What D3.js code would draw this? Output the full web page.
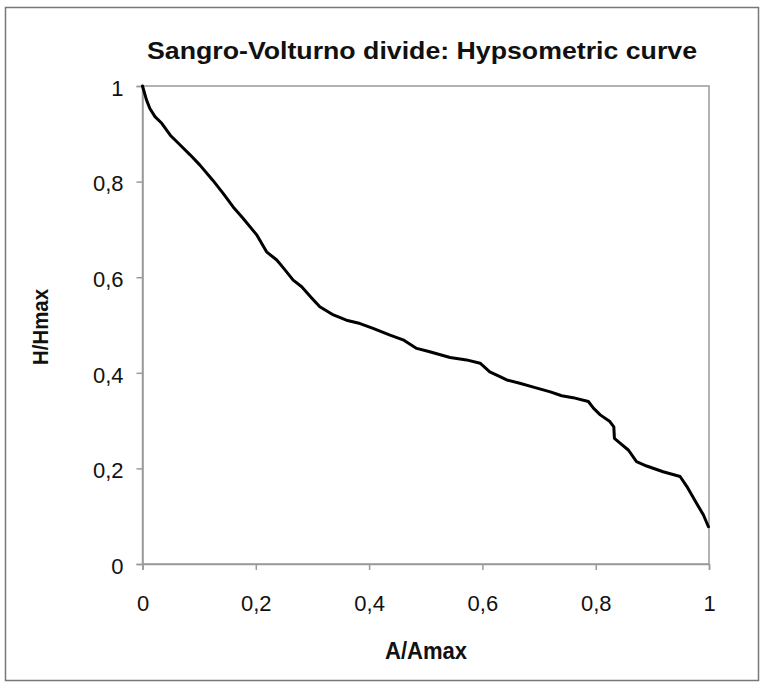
<!DOCTYPE html>
<html>
<head>
<meta charset="utf-8">
<script src="https://cdn.jsdelivr.net/npm/d3@7"></script>
<style>
  html, body { margin: 0; padding: 0; background: #fff; }
  svg { display: block; }
  text { font-family: "Liberation Sans", Arial, sans-serif; fill: #111; }
</style>
</head>
<body>
<svg id="chart" width="765" height="688"></svg>
<script>
const title = "Sangro-Volturno divide: Hypsometric curve";
const xLabel = "A/Amax";
const yLabel = "H/Hmax";
const xTicks = [0, 0.2, 0.4, 0.6, 0.8, 1];
const yTicks = [0, 0.2, 0.4, 0.6, 0.8, 1];

// Relative area (A/Amax)
const areaRel = [0, 0.007, 0.013, 0.022, 0.034, 0.049, 0.066, 0.084, 0.101, 0.124, 0.142, 0.160, 0.177, 0.202, 0.219, 0.237, 0.249, 0.266, 0.281, 0.299, 0.313, 0.337, 0.360, 0.384, 0.407, 0.437, 0.460, 0.484, 0.507, 0.543, 0.572, 0.596, 0.613, 0.631, 0.643, 0.666, 0.690, 0.720, 0.740, 0.760, 0.787, 0.796, 0.808, 0.825, 0.832, 0.833, 0.843, 0.858, 0.872, 0.890, 0.919, 0.949, 0.961, 0.978, 0.990, 0.999];
// Relative height (H/Hmax)
const heightRel = [1.0, 0.971, 0.953, 0.936, 0.922, 0.897, 0.877, 0.856, 0.835, 0.803, 0.776, 0.747, 0.724, 0.688, 0.653, 0.636, 0.619, 0.594, 0.580, 0.556, 0.538, 0.521, 0.510, 0.503, 0.493, 0.479, 0.469, 0.451, 0.444, 0.432, 0.427, 0.420, 0.402, 0.392, 0.385, 0.378, 0.370, 0.360, 0.352, 0.348, 0.340, 0.326, 0.312, 0.298, 0.287, 0.263, 0.253, 0.238, 0.214, 0.205, 0.193, 0.183, 0.162, 0.127, 0.103, 0.078];

(function () {
const svg = d3.select("#chart");
const fmt = v => String(v).replace(".", ",");

// outer frame
svg.append("rect").attr("x", 5.5).attr("y", 7.5).attr("width", 753).attr("height", 673)
  .attr("fill", "#fff").attr("stroke", "#777").attr("stroke-width", 1.5);

const pLeft = 142.5, pRight = 709, pTop = 86, pBottom = 564;
const x = d3.scaleLinear().domain([0, 1]).range([pLeft, pRight]);
const y = d3.scaleLinear().domain([0, 1]).range([pBottom, pTop]);

// plot frame
svg.append("rect").attr("x", pLeft).attr("y", pTop).attr("width", pRight - pLeft).attr("height", pBottom - pTop)
  .attr("fill", "none").attr("stroke", "#9a9a9a").attr("stroke-width", 1.5);

const xAxis = svg.append("g").attr("transform", `translate(0,${pBottom})`)
  .call(d3.axisBottom(x).tickValues(xTicks).tickFormat(fmt).tickSize(6).tickPadding(25));
const yAxis = svg.append("g").attr("transform", `translate(${pLeft},0)`)
  .call(d3.axisLeft(y).tickValues(yTicks).tickFormat(fmt).tickSize(6).tickPadding(13));
[xAxis, yAxis].forEach(g => {
  g.select(".domain").attr("stroke", "#9a9a9a").attr("stroke-width", 1.5);
  g.selectAll(".tick line").attr("stroke", "#9a9a9a").attr("stroke-width", 1.5);
  g.selectAll(".tick text").attr("font-size", 22).attr("fill", "#111")
    .attr("font-family", '"Liberation Sans", Arial, sans-serif');
});
yAxis.selectAll(".tick text").attr("dy", "0.42em");

const pts = areaRel.map((a, i) => [a, heightRel[i]]);
svg.append("path").datum(pts)
  .attr("fill", "none").attr("stroke", "#000").attr("stroke-width", 3)
  .attr("stroke-linejoin", "round").attr("stroke-linecap", "round")
  .attr("d", d3.line().x(d => x(d[0])).y(d => y(d[1])));

svg.append("text").attr("x", 422).attr("y", 59).attr("text-anchor", "middle")
  .attr("font-size", 24).attr("font-weight", "bold")
  .attr("textLength", 550).attr("lengthAdjust", "spacingAndGlyphs").text(title);
svg.append("text").attr("x", 426).attr("y", 659).attr("text-anchor", "middle")
  .attr("font-size", 24).attr("font-weight", "bold")
  .attr("textLength", 82).attr("lengthAdjust", "spacingAndGlyphs").text(xLabel);
svg.append("text").attr("transform", `translate(48,327) rotate(-90)`).attr("text-anchor", "middle")
  .attr("font-size", 22).attr("font-weight", "bold")
  .attr("textLength", 76).attr("lengthAdjust", "spacingAndGlyphs").text(yLabel);
})();
</script>
</body>
</html>
